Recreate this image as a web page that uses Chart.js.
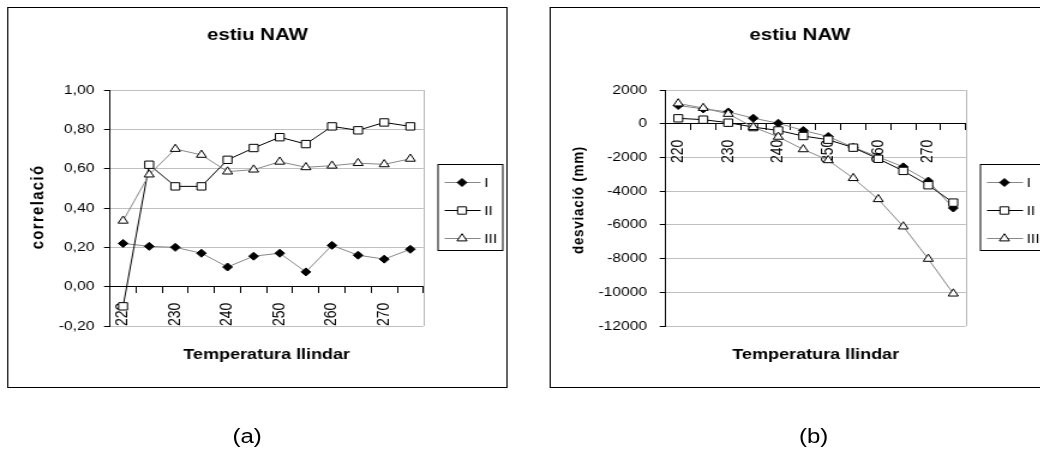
<!DOCTYPE html>
<html>
<head>
<meta charset="utf-8">
<script src="https://cdn.jsdelivr.net/npm/chart.js@4.4.1/dist/chart.umd.min.js"></script>
<style>
  html, body { margin: 0; padding: 0; background: #fff; overflow: hidden; width: 1040px; height: 453px; }
  #stage { position: absolute; left: 0; top: 0; width: 867px; height: 453px;
           transform: scaleX(1.2); transform-origin: 0 0;
           font-family: 'Liberation Sans', Arial, sans-serif; }
  .box { position: absolute; top: 7px; width: 417px; height: 381px; border: 1px solid #000;
         box-sizing: border-box; background: #fff; }
  .box canvas { position: absolute; left: 0; top: 0; }
  .cap { position: absolute; top: 426px; width: 100px; text-align: center;
         font-size: 20px; line-height: 20px; color: #000; }
</style>
</head>
<body>
<div id="stage">
  <div class="box" style="left:6px"><canvas id="chartA" width="415" height="379"></canvas></div>
  <div class="box" style="left:458px"><canvas id="chartB" width="415" height="379"></canvas></div>
  <div class="cap" style="left:156px">(a)</div>
  <div class="cap" style="left:628px">(b)</div>
</div>
<script>
// Threshold temperatures (x categories); every other one is labelled
const temperatures = ['220', '225', '230', '235', '240', '245', '250', '255', '260', '265', '270', '275'];
const seriesNames = ['I', 'II', 'III'];

// (a) correlation per threshold
const corrI   = [0.22, 0.205, 0.20, 0.17, 0.10, 0.155, 0.17, 0.075, 0.21, 0.16, 0.14, 0.19];
const corrII  = [-0.10, 0.62, 0.51, 0.51, 0.645, 0.705, 0.76, 0.725, 0.815, 0.795, 0.835, 0.815];
const corrIII = [0.335, 0.57, 0.70, 0.67, 0.585, 0.595, 0.635, 0.607, 0.615, 0.628, 0.622, 0.65];

// (b) deviation (mm) per threshold
const devI   = [1080, 880, 700, 330, 30, -400, -760, -1400, -1970, -2560, -3400, -5000];
const devII  = [320, 240, 60, -200, -400, -730, -950, -1420, -2080, -2800, -3650, -4680];
const devIII = [1200, 930, 580, -200, -780, -1520, -2170, -3230, -4480, -6100, -8020, -10080];

const FONT = "'Liberation Sans', Arial, sans-serif";
Chart.defaults.font.family = FONT;
Chart.defaults.font.size = 13;
Chart.defaults.color = '#000';

const seriesStyle = [
  { borderColor: '#888', pointStyle: 'rectRot', pointRadius: 4, pointBackgroundColor: '#000', order: 3 },
  { borderColor: '#000', pointStyle: 'rect', pointRadius: 5.2, pointBackgroundColor: '#fff', order: 2 },
  { borderColor: '#888', pointStyle: 'triangle', pointRadius: 4.8, pointBackgroundColor: '#fff', order: 1 }
];

function drawMarker(ctx, ds, x, y) {
  const r = ds.pointRadius;
  ctx.beginPath();
  if (ds.pointStyle === 'rectRot') {
    ctx.moveTo(x, y - r); ctx.lineTo(x + r, y); ctx.lineTo(x, y + r); ctx.lineTo(x - r, y);
  } else if (ds.pointStyle === 'rect') {
    const s = r * Math.SQRT1_2;
    ctx.rect(x - s, y - s, 2 * s, 2 * s);
  } else {
    ctx.moveTo(x, y - r);
    ctx.lineTo(x + 0.866 * r, y + 0.5 * r);
    ctx.lineTo(x - 0.866 * r, y + 0.5 * r);
  }
  ctx.closePath();
  ctx.fillStyle = ds.pointBackgroundColor;
  ctx.fill();
  ctx.strokeStyle = '#000';
  ctx.lineWidth = 1;
  ctx.stroke();
}

// Plot frame, titles and the boxed legend
const framePlugin = {
  id: 'frame',
  beforeDatasetsDraw(chart) {
    const { ctx, chartArea: a } = chart;
    ctx.save();
    ctx.strokeStyle = '#b8b8b8';
    ctx.lineWidth = 1;
    const xr = Math.round(a.right) + 0.5;
    ctx.beginPath(); ctx.moveTo(xr, a.top); ctx.lineTo(xr, a.bottom); ctx.stroke();
    ctx.restore();
  },
  afterDraw(chart, args, o) {
    const { ctx, chartArea: a } = chart;
    ctx.save();
    ctx.fillStyle = '#000';
    ctx.textAlign = 'center';
    ctx.textBaseline = 'alphabetic';
    ctx.font = 'bold 17px ' + FONT;
    ctx.fillText(o.title, chart.width / 2, o.titleY);
    ctx.font = 'bold 15px ' + FONT;
    ctx.fillText(o.xTitle, (a.left + a.right) / 2, o.xTitleY);

    ctx.save();
    ctx.translate(o.yTitleX, o.yTitleY);
    ctx.rotate(-Math.PI / 2);
    ctx.font = 'bold ' + o.yTitleSize + 'px ' + FONT;
    if ('letterSpacing' in ctx) ctx.letterSpacing = o.yTitleSpacing + 'px';
    ctx.fillText(o.yTitle, 0, 0);
    ctx.restore();

    const L = o.legend;
    ctx.strokeStyle = '#000';
    ctx.lineWidth = 1;
    ctx.strokeRect(L.x + 0.5, L.y + 0.5, L.w, L.h);
    ctx.font = '13px ' + FONT;
    ctx.textAlign = 'left';
    ctx.textBaseline = 'middle';
    chart.data.datasets.forEach((ds, i) => {
      const y = L.rows[i];
      ctx.strokeStyle = ds.borderColor;
      ctx.lineWidth = 1;
      ctx.beginPath();
      ctx.moveTo(L.x + 6, y + 0.5);
      ctx.lineTo(L.x + 36, y + 0.5);
      ctx.stroke();
      drawMarker(ctx, ds, L.x + 20.5, y + 0.5);
      ctx.fillStyle = '#000';
      ctx.fillText(ds.label, L.x + 39, y + 1);
    });
    ctx.restore();
  }
};

function makeChart(id, series, yOpts, frame, padLeft, tickPad) {
  const datasets = series.map((values, i) => Object.assign({
    label: seriesNames[i],
    data: values,
    borderWidth: 1,
    pointBorderColor: '#000',
    pointBorderWidth: 1,
    tension: 0,
    fill: false
  }, seriesStyle[i]));

  return new Chart(document.getElementById(id), {
    type: 'line',
    data: { labels: temperatures, datasets },
    plugins: [framePlugin],
    options: {
      responsive: false,
      maintainAspectRatio: false,
      devicePixelRatio: 1,
      animation: false,
      events: [],
      layout: { padding: { top: 82, bottom: 61, left: padLeft, right: 69.2 } },
      plugins: {
        legend: { display: false },
        title: { display: false },
        tooltip: { enabled: false },
        frame
      },
      scales: {
        x: {
          type: 'category',
          position: { y: 0 },
          offset: true,
          grid: { offset: true, drawOnChartArea: false, drawTicks: true, tickLength: 6, tickColor: '#000' },
          border: { color: '#000', width: 1 },
          ticks: {
            autoSkip: false, maxRotation: 90, minRotation: 90, padding: 10,
            font: { size: 14 }, color: '#000',
            callback: (v, i) => (i % 2 === 0 ? temperatures[i] : '')
          }
        },
        y: Object.assign({
          grid: { color: '#c0c0c0', tickColor: '#000', tickLength: 5, drawTicks: true },
          border: { color: '#000', width: 1 },
          afterFit: s => { s.width = 60; }
        }, yOpts, {
          ticks: Object.assign({ font: { size: 13 }, color: '#000', padding: tickPad }, yOpts.ticks)
        })
      }
    }
  });
}

const legendBox = { x: 357.5, y: 156, w: 54, h: 86, rows: [174, 202, 230] };

makeChart('chartA', [corrI, corrII, corrIII], {
  min: -0.2, max: 1.0,
  ticks: { stepSize: 0.2, callback: v => (Math.abs(v) < 1e-9 ? 0 : v).toFixed(2).replace('.', ',') }
}, {
  title: 'estiu NAW', titleY: 32,
  xTitle: 'Temperatura llindar', xTitleY: 351.3,
  yTitle: 'correlació', yTitleX: 28.6, yTitleY: 199, yTitleSize: 15, yTitleSpacing: 1.3,
  legend: legendBox
}, 24.67, 8);

makeChart('chartB', [devI, devII, devIII], {
  min: -12000, max: 2000,
  ticks: { stepSize: 2000, callback: v => String(Math.round(v)) }
}, {
  title: 'estiu NAW', titleY: 32,
  xTitle: 'Temperatura llindar', xTitleY: 351.3,
  yTitle: 'desviació (mm)', yTitleX: 26.8, yTitleY: 192, yTitleSize: 13.5, yTitleSpacing: 0.7,
  legend: legendBox
}, 35.75, 10.5);
</script>
</body>
</html>
